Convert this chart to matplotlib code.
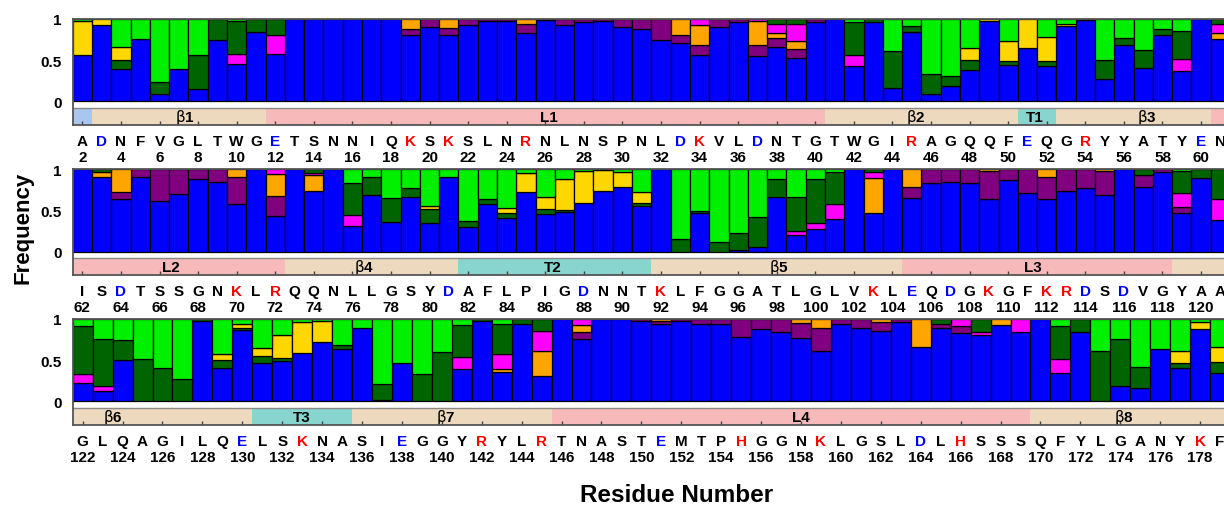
import matplotlib
matplotlib.use('Agg')
import matplotlib.pyplot as plt
from matplotlib.patches import Rectangle

plt.rcParams['font.family'] = ['Liberation Sans', 'DejaVu Sans']

# residues 2..179, one letter each
sequence = ("ADNFVGLTWGETSNNIQKSKSLNRNLNSPNLDKVLDNTGTWGIRAGQQFEQGRYYATYEN"
            "ISDTSSGNKLRQQNLLGSYDAFLPIGDNNTKLFGGATLGLVKLEQDGKGFKRDSDVGYAA"
            "GLQAGILQELSKNASIEGGYRYLRTNASTEMTPHGGNKLGSLDLHSSSQFYLGANYKF")
first_res = 2

# stacked fractions, bottom to top (rows of 10 residues: 2-11, 12-21, ...)
blue = [.56, .93, .39, .76, .09, .39, .155, .745, .46, .845,
        .58, 1, 1, 1, 1, 1, 1, .805, .905, .805,
        .925, .975, .975, .83, .985, .925, .965, .975, .90, .88,
        .75, .71, .56, .90, .965, .55, .655, .53, .965, 1,
        .43, .965, .165, .845, .085, .185, .385, .975, .44, .65,
        .43, .92, .985, .275, .685, .405, .805, .365, 1, .755,
        1, .90, .635, .905, .61, .695, .885, .845, .58, 1,
        .43, 1, .73, 1, .315, .69, .36, .665, .345, .905,
        .295, .57, .405, .725, .46, .48, .59, .735, .785, .555,
        1, 0, .47, 0, .02, .055, .665, .195, .275, .39,
        1, .465, 1, .65, .835, .845, .825, .635, .865, .71,
        .635, .73, .775, .69, 1, .785, .965, .465, .895, .38,
        .225, .125, .50, 0, 0, 0, .975, .405, .865, .47,
        .49, .59, .725, .64, .885, .02, .465, 0, 0, .39,
        .975, .36, .945, .315, 1, .755, 1, 1, .975, .945,
        .975, .945, .935, .785, .875, .845, .77, .61, .945, .895,
        .855, .96, .665, .895, .825, .805, .925, .845, 1, .345,
        .845, 0, .185, .165, .635, .41, .88, .35]
purple = [0, 0, 0, 0, 0, 0, 0, 0, 0, 0,
          0, 0, 0, 0, 0, 0, 0, .075, .095, .09,
          .075, .025, .025, .115, .015, .075, .035, .025, .10, .12,
          .25, .10, .13, .10, .035, .14, .115, .11, .035, 0,
          0, 0, 0, 0, 0, 0, 0, 0, 0, 0,
          0, 0, 0, 0, 0, 0, 0, 0, 0, 0,
          0, 0, .09, .095, .39, .305, .115, .155, .325, 0,
          .245, 0, 0, 0, 0, 0, 0, 0, 0, 0,
          0, 0, 0, 0, 0, 0, 0, 0, 0, 0,
          0, 0, 0, 0, 0, 0, 0, 0, 0, 0,
          0, 0, 0, .135, .165, .155, .175, .34, .135, .29,
          .27, .27, .225, .285, 0, .14, .035, .075, 0, 0,
          0, 0, 0, 0, 0, 0, 0, 0, 0, 0,
          0, 0, 0, 0, 0, 0, 0, 0, 0, 0,
          0, 0, 0, 0, 0, .09, 0, 0, .025, .03,
          .025, .055, .065, .215, .125, .155, .185, .285, .055, .105,
          .105, .04, 0, .05, .095, 0, 0, 0, 0, 0,
          0, 0, 0, 0, 0, 0, 0, 0]
orange = [0, 0, 0, 0, 0, 0, 0, 0, 0, 0,
          0, 0, 0, 0, 0, 0, 0, .12, 0, .105,
          0, 0, 0, .055, 0, 0, 0, 0, 0, 0,
          0, .19, .235, 0, 0, .285, .055, .095, 0, 0,
          0, 0, 0, 0, 0, 0, 0, 0, 0, 0,
          0, 0, 0, 0, 0, 0, 0, 0, 0, .08,
          0, .06, .275, 0, 0, 0, 0, 0, .095, 0,
          .27, 0, .195, 0, 0, 0, 0, 0, 0, 0,
          0, 0, 0, 0, 0, 0, 0, 0, 0, 0,
          0, 0, 0, 0, 0, 0, 0, 0, 0, 0,
          0, .43, 0, .215, 0, 0, 0, .025, 0, 0,
          .095, 0, 0, .025, 0, 0, 0, 0, 0, 0,
          0, 0, 0, 0, 0, 0, 0, 0, 0, 0,
          0, 0, 0, 0, 0, 0, 0, 0, 0, 0,
          0, .03, 0, .295, 0, .08, 0, 0, 0, .025,
          0, 0, 0, 0, 0, 0, .045, .105, 0, 0,
          .04, 0, .335, 0, 0, 0, .075, 0, 0, 0,
          0, 0, 0, 0, 0, 0, 0, 0]
magenta = [0, 0, 0, 0, 0, 0, 0, 0, .11, 0,
           .22, 0, 0, 0, 0, 0, 0, 0, 0, 0,
           0, 0, 0, 0, 0, 0, 0, 0, 0, 0,
           0, 0, .075, 0, 0, .025, .11, .205, 0, 0,
           .13, 0, 0, 0, 0, 0, 0, 0, 0, 0,
           0, 0, 0, 0, 0, 0, 0, .145, 0, .10,
           0, 0, 0, 0, 0, 0, 0, 0, 0, 0,
           .055, 0, .03, 0, .13, 0, 0, 0, 0, 0,
           0, 0, 0, 0, 0, 0, 0, 0, 0, 0,
           0, 0, 0, 0, 0, 0, 0, .055, .07, .18,
           0, .07, 0, 0, 0, 0, 0, 0, 0, 0,
           0, 0, 0, 0, 0, 0, 0, .17, 0, .255,
           .11, .06, 0, 0, 0, 0, 0, 0, 0, 0,
           0, 0, 0, 0, 0, 0, 0, 0, 0, .145,
           0, .19, 0, .245, 0, .075, 0, 0, 0, 0,
           0, 0, 0, 0, 0, 0, 0, 0, 0, 0,
           0, 0, 0, 0, .08, .04, 0, .155, 0, .165,
           0, 0, 0, 0, 0, 0, 0, 0]
darkgreen = [0, 0, .11, 0, .145, 0, .405, .255, .40, .155,
             .20, 0, 0, 0, 0, 0, 0, 0, 0, 0,
             0, 0, 0, 0, 0, 0, 0, 0, 0, 0,
             0, 0, 0, 0, 0, 0, .065, .06, 0, 0,
             .405, .035, .45, .075, .25, .12, .115, 0, .05, 0,
             .06, 0, .015, .225, .09, .215, .075, .34, 0, .065,
             0, .04, 0, 0, 0, 0, 0, 0, 0, 0,
             0, 0, .045, 0, .39, .21, .285, .10, .175, 0,
             .075, .065, .065, 0, .05, .02, 0, 0, 0, .035,
             0, .155, .02, .12, .21, .365, .21, .415, .54, .39,
             0, .035, 0, 0, 0, 0, 0, 0, 0, 0,
             0, 0, 0, 0, 0, .075, 0, .27, .105, .365,
             .585, .57, .245, .51, .40, .27, .025, .095, .03, .08,
             .035, 0, 0, .04, 0, .195, 0, .33, .60, .39,
             .025, .355, .055, .145, 0, 0, 0, 0, 0, 0,
             0, 0, 0, 0, 0, 0, 0, 0, 0, 0,
             0, 0, 0, .055, 0, .155, 0, 0, 0, .41,
             .155, .615, .57, .255, 0, .06, 0, .13]
yellow = [.415, .07, .165, 0, 0, 0, 0, 0, 0, 0,
          0, 0, 0, 0, 0, 0, 0, 0, 0, 0,
          0, 0, 0, 0, 0, 0, 0, 0, 0, 0,
          0, 0, 0, 0, 0, 0, 0, 0, 0, 0,
          0, 0, 0, 0, 0, 0, .15, .025, .24, .35,
          .295, .025, 0, 0, 0, 0, 0, 0, 0, 0,
          0, 0, 0, 0, 0, 0, 0, 0, 0, 0,
          0, 0, 0, 0, 0, 0, 0, 0, .03, 0,
          0, 0, .055, .23, .15, .375, .39, .25, .18, .135,
          0, 0, 0, 0, 0, 0, 0, 0, 0, 0,
          0, 0, 0, 0, 0, 0, 0, 0, 0, 0,
          0, 0, 0, 0, 0, 0, 0, 0, 0, 0,
          0, 0, 0, 0, 0, 0, 0, .07, .04, .10,
          .275, .37, .25, 0, 0, 0, 0, 0, 0, 0,
          0, 0, 0, 0, 0, 0, 0, 0, 0, 0,
          0, 0, 0, 0, 0, 0, 0, 0, 0, 0,
          0, 0, 0, 0, 0, 0, 0, 0, 0, 0,
          0, 0, 0, 0, 0, .14, .085, .175]
green = [.025, 0, .335, .24, .765, .61, .44, 0, .03, 0,
         0, 0, 0, 0, 0, 0, 0, 0, 0, 0,
         0, 0, 0, 0, 0, 0, 0, 0, 0, 0,
         0, 0, 0, 0, 0, 0, 0, 0, 0, 0,
         .035, 0, .385, .08, .665, .695, .35, 0, .27, 0,
         .215, .055, 0, .50, .225, .38, .12, .15, 0, 0,
         0, 0, 0, 0, 0, 0, 0, 0, 0, 0,
         0, 0, 0, 0, .165, .10, .355, .235, .45, .095,
         .63, .365, .475, .045, .34, .125, .02, .015, .035, .275,
         0, .845, .51, .88, .77, .58, .125, .335, .115, .04,
         0, 0, 0, 0, 0, 0, 0, 0, 0, 0,
         0, 0, 0, 0, 0, 0, 0, .02, 0, 0,
         .08, .245, .255, .49, .60, .73, 0, .43, .065, .35,
         .20, .04, .025, .32, .115, .785, .535, .67, .40, .075,
         0, .065, 0, 0, 0, 0, 0, 0, 0, 0,
         0, 0, 0, 0, 0, 0, 0, 0, 0, 0,
         0, 0, 0, 0, 0, 0, 0, 0, 0, .08,
         0, .385, .245, .58, .365, .39, .035, .345]

series = [blue, purple, orange, magenta, darkgreen, yellow, green]
series_colors = ['#0000FF', '#800080', '#FFA500', '#FF00FF', '#006400', '#FFD700', '#00F000']

panels = [(2, 61), (62, 121), (122, 179)]

# secondary structure: (start, end, kind)
ss_segments = [(2, 2, 'N'), (3, 11, 'B'), (12, 40, 'L'), (41, 50, 'B'), (51, 52, 'T'),
               (53, 60, 'B'), (61, 72, 'L'), (73, 81, 'B'), (82, 91, 'T'), (92, 104, 'B'),
               (105, 118, 'L'), (119, 130, 'B'), (131, 135, 'T'), (136, 145, 'B'),
               (146, 169, 'L'), (170, 179, 'B')]
ss_labels = [(7.3, 'b1'), (26.2, 'L1'), (45.2, 'b2'), (51.4, 'T1'), (57.2, 'b3'),
             (66.6, 'L2'), (76.6, 'b4'), (86.4, 'T2'), (98.1, 'b5'), (111.3, 'L3'),
             (123.5, 'b6'), (133.0, 'T3'), (140.2, 'b7'), (158.0, 'L4'), (174.2, 'b8')]
ss_colors = {'N': '#A9C6EF', 'B': '#EDD9BE', 'L': '#F7B9B9', 'T': '#88D4CF'}


def letter_color(c):
    if c in 'KRH':
        return '#FF0000'
    if c in 'DE':
        return '#0000FF'
    return 'black'


fig = plt.figure(figsize=(12.24, 5.06), dpi=100)
ax_left, ax_width = 0.0594, 0.9455
tops = [0.9605, 0.6640, 0.3676]
ax_h = 0.2095
y_low = -0.285
band_top = -0.08

for (lo, hi), top in zip(panels, tops):
    ax = fig.add_axes([ax_left, top - ax_h, ax_width, ax_h])
    res = list(range(lo, hi + 1))
    bottom = [0.0] * len(res)
    for vals, col in zip(series, series_colors):
        xs, hs, bs = [], [], []
        for k, r in enumerate(res):
            v = vals[r - first_res]
            if v > 0:
                xs.append(r)
                hs.append(v)
                bs.append(bottom[k])
            bottom[k] += v
        ax.bar(xs, hs, width=1.0, bottom=bs, color=col, edgecolor='black', linewidth=0.9)

    # secondary structure band
    for s, e, kind in ss_segments:
        s2, e2 = max(s, lo), min(e, hi)
        if s2 > e2:
            continue
        ax.add_patch(Rectangle((s2 - 0.5, y_low), e2 - s2 + 1, band_top - y_low,
                               facecolor=ss_colors[kind], edgecolor='none', zorder=1))
    ax.axhline(band_top, color='#888888', lw=1.0, zorder=2)
    for xpos, lab in ss_labels:
        if lo - 0.5 <= xpos <= hi + 0.5:
            txt = '$\\mathrm{\\beta}$' + lab[1] if lab[0] == 'b' else lab
            ax.text(xpos, (band_top + y_low) / 2, txt, ha='center', va='center',
                    fontsize=11, fontweight='bold', zorder=3)

    # residue letters and numbers
    for r in res:
        c = sequence[r - first_res]
        ax.annotate(c, xy=(r, 0), xycoords=('data', 'axes fraction'),
                    xytext=(0, -14.6), textcoords='offset points', ha='center',
                    va='baseline', fontsize=11, fontweight='bold', color=letter_color(c),
                    annotation_clip=False)
        if r % 2 == 0:
            ax.annotate(str(r), xy=(r, 0), xycoords=('data', 'axes fraction'),
                        xytext=(0, -26.0), textcoords='offset points', ha='center',
                        va='baseline', fontsize=11, fontweight='bold',
                        annotation_clip=False)

    ax.set_xlim(lo - 0.5, hi + 0.5)
    ax.set_ylim(y_low, 1.0)
    ax.set_xticks([r for r in res if r % 2 == 0])
    ax.set_xticklabels([])
    ax.tick_params(axis='x', direction='in', length=3, width=1, color='#444444',
                   bottom=True, top=False)
    ax.set_yticks([0, 0.5, 1])
    ax.set_yticklabels(['0', '0.5', '1'], fontsize=11, fontweight='bold')
    ax.tick_params(axis='y', length=0, pad=8)
    for sp in ax.spines.values():
        sp.set_color('#555555')
        sp.set_linewidth(1.3)
        sp.set_zorder(4)

fig.text(0.0188, 0.549, 'Frequency', rotation=90, ha='center', va='center',
         fontsize=16, fontweight='bold')
fig.text(0.553, 0.0217, 'Residue Number', ha='center', va='center',
         fontsize=17.5, fontweight='bold')

fig.savefig('out.png', dpi=100)
